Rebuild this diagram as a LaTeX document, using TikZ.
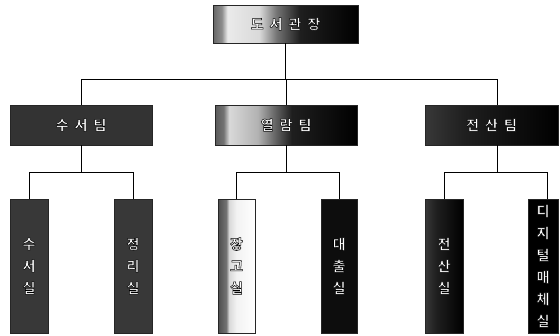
\documentclass[tikz,border=0pt]{standalone}
\usepackage{fontspec}
\newfontfamily\krfont{Noto Sans CJK KR}[BoldFont={* Bold}]
\newcommand\wt[1]{\special{pdf:literal direct 2 Tr 0.5 w 0 0 0 RG}#1\special{pdf:literal direct 0 Tr}}
\newcommand\gp{\kern6pt}
\pgfdeclarehorizontalshading{headsh}{100bp}{color(0bp)=(black!60); color(25bp)=(black!60); color(28bp)=(black!45); color(30bp)=(white!92!black); color(41bp)=(black!15); color(47bp)=(black!55); color(55bp)=(black!88); color(75bp)=(black); color(100bp)=(black)}
\pgfdeclarehorizontalshading{midsh}{100bp}{color(0bp)=(black!65); color(25bp)=(black!65); color(28bp)=(black!55); color(30bp)=(black!15); color(40bp)=(black!30); color(46bp)=(black!60); color(52bp)=(black!88); color(75bp)=(black); color(100bp)=(black)}
\pgfdeclarehorizontalshading{lightsh}{100bp}{color(0bp)=(black!70); color(25bp)=(black!70); color(36bp)=(black!55); color(40bp)=(black!15); color(50bp)=(white!95!black); color(75bp)=(white); color(100bp)=(white)}
\pgfdeclarehorizontalshading{darksh}{100bp}{color(0bp)=(black!78); color(25bp)=(black!78); color(40bp)=(black!88); color(75bp)=(black); color(100bp)=(black)}
\tikzset{
  box/.style={draw=black!85, line width=0.6pt, inner sep=0pt, text=white,
    font=\krfont\bfseries\fontsize{14}{22}\selectfont, align=center},
  hbox/.style={box, minimum height=40pt},
  vbox/.style={box, minimum height=134pt},
  link/.style={draw=black, line width=0.9pt}
}
\begin{document}
\begin{tikzpicture}[x=1pt,y=-1pt]
\useasboundingbox (0,0) rectangle (560,335);
% boxes
\node[hbox, minimum width=145pt, minimum height=38pt, shading=headsh] (top) at (285.5,24) {\wt{도\gp 서\gp 관\gp 장}};
\node[hbox, minimum width=142pt, fill=black!80] (t1) at (81,125) {\wt{수\gp 서\gp 팀}};
\node[hbox, minimum width=142pt, shading=midsh] (t2) at (286,125) {\wt{열\gp 람\gp 팀}};
\node[hbox, minimum width=133pt, shading=darksh] (t3) at (491.5,125) {\wt{전\gp 산\gp 팀}};
\node[vbox, minimum width=38pt, fill=black!78] (r1) at (29,266) {\wt{수\\서\\실}};
\node[vbox, minimum width=38pt, fill=black!78] (r2) at (133,266) {\wt{정\\리\\실}};
\node[vbox, minimum width=37pt, shading=lightsh] (r3) at (236.5,266) {\wt{장\\고\\실}};
\node[vbox, minimum width=36pt, fill=black!95] (r4) at (339,266) {\wt{대\\출\\실}};
\node[vbox, minimum width=38pt, shading=darksh] (r5) at (444,266) {\wt{전\\산\\실}};
\node[vbox, minimum width=30pt, fill=black] (r6) at (543,266) {\wt{디\\지\\털\\매\\체\\실}};
% bus coordinates
\coordinate (bus1) at (287,79);
\coordinate (bus2) at (287,172);
\coordinate (t3a) at ([xshift=5.5pt]t3.north);
\coordinate (t3b) at ([xshift=5.5pt]t3.south);
\coordinate (r6a) at ([xshift=4.5pt]r6.north);
% level 1 -> 2
\draw[link] (top.south) -- (top.south |- bus1);
\draw[link] (t1.north) |- (bus1 -| t3a) -- (t3a);
\draw[link] (t2.north) -- (t2.north |- bus1);
% level 2 -> 3
\draw[link] (t1.south) -- (t1.south |- bus2);
\draw[link] (r1.north) |- (bus2 -| r2.north) -- (r2.north);
\draw[link] (t2.south) -- (t2.south |- bus2);
\draw[link] (r3.north) |- (bus2 -| r4.north) -- (r4.north);
\draw[link] (t3b) -- (t3b |- bus2);
\draw[link] (r5.north) |- (bus2 -| r6a) -- (r6a);
\end{tikzpicture}
\end{document}
